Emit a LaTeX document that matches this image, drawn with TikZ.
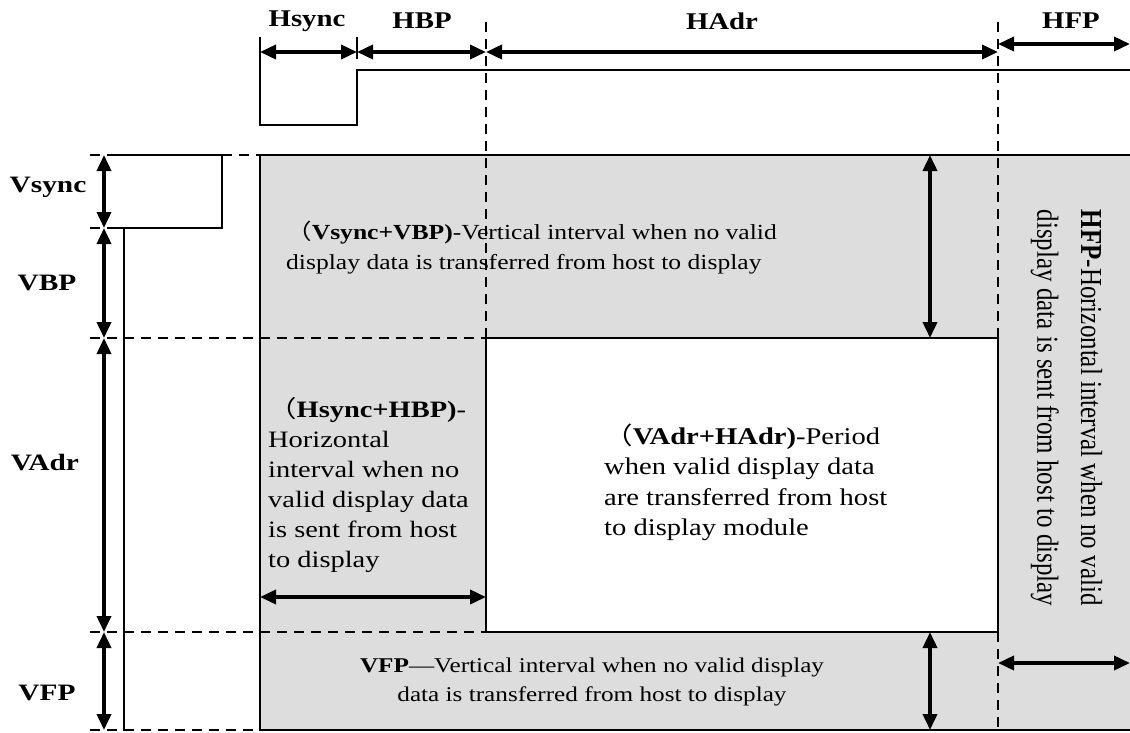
\documentclass[tikz,border=0pt]{standalone}
\usepackage{fontspec}
\setmainfont{Liberation Serif}
\newfontfamily\cjk{Noto Sans CJK SC}
\usetikzlibrary{arrows.meta}

% horizontal stretch of a text box
\newcommand\hs[2]{\scalebox{#1}[1]{#2}}
\newcommand\fwo{{\cjk\mdseries （}}

\definecolor{panelgray}{RGB}{221,221,221}

\tikzset{
  wire/.style={line width=1.5pt, line cap=rect},
  guide/.style={line width=1.5pt, dash pattern=on 10pt off 7pt},
  dim/.style={line width=3.6pt,
    {Triangle[length=16pt,width=14pt]}-{Triangle[length=16pt,width=14pt]}},
  toplbl/.style={inner sep=0pt, font=\fontsize{24}{28}\selectfont\bfseries},
  sidelbl/.style={inner sep=0pt, font=\fontsize{23.5}{28}\selectfont\bfseries},
  note/.style={inner sep=0pt}
}

\begin{document}
\begin{tikzpicture}[x=1pt,y=-1pt]
\useasboundingbox (0,0) rectangle (1130,732);

% ---------- shaded frame and active area ----------
\fill[panelgray] (260,155) rectangle (1130,730);
\fill[white] (486,338) rectangle (998,632);

% ---------- key points ----------
% top dimension line
\coordinate (t1) at (260,52);
\coordinate (t2) at (357,52);
\coordinate (t3) at (486,52);
\coordinate (t4) at (998,52);
\coordinate (t5) at (998,44);
\coordinate (t6) at (1130,44);
% hsync waveform
\coordinate (w0) at (260,38);
\coordinate (w1) at (260,125);
\coordinate (w2) at (357,125);
\coordinate (w3) at (357,70);
\coordinate (w4) at (1130,70);
\coordinate (k0) at (357,38);
\coordinate (k1) at (357,58);
% vsync waveform
\coordinate (v0) at (110,155);
\coordinate (v1) at (222,155);
\coordinate (v2) at (222,228);
\coordinate (v3) at (112,228);
\coordinate (v4) at (124,228);
\coordinate (v5) at (124,730);
% vertical guides
\coordinate (gc0) at (486,22);
\coordinate (gc1) at (486,338);
\coordinate (gd0) at (998,22);
\coordinate (gd1) at (998,338);
\coordinate (gd2) at (998,632);
\coordinate (gd3) at (998,730);
% horizontal guides
\coordinate (h1a) at (90,155);
\coordinate (h1b) at (260,155);
\coordinate (h1c) at (1130,155);
\coordinate (h2a) at (90,228);
\coordinate (h3a) at (90,338);
\coordinate (h3b) at (486,338);
\coordinate (h4a) at (90,632);
\coordinate (h4b) at (486,632);
\coordinate (h5a) at (90,730);
\coordinate (h5b) at (260,730);
\coordinate (h5c) at (1130,730);
% left dimension line
\coordinate (l1) at (104,155);
\coordinate (l2) at (104,228);
\coordinate (l3) at (104,338);
\coordinate (l4) at (104,632);
\coordinate (l5) at (104,730);
% inner dimension lines
\coordinate (a1) at (930,155);
\coordinate (a2) at (930,338);
\coordinate (a3) at (930,632);
\coordinate (a4) at (930,730);
\coordinate (b1) at (998,663);
\coordinate (b2) at (1130,663);
\coordinate (c1) at (260,597);
\coordinate (c2) at (486,597);

% ---------- guides ----------
\draw[guide] (gc0) -- (gc1);
\draw[guide] (gd0) -- (gd1);
\draw[guide] (gd2) -- (gd3);
\draw[guide] (h1a) -- (v0);
\draw[guide] (v1) -- (h1b);
\draw[guide] (h2a) -- (v3);
\draw[guide] (h3a) -- (h3b);
\draw[guide] (h4a) -- (h4b);
\draw[guide] (h5a) -- (h5b);

% ---------- solid outlines ----------
\draw[wire] (h1b) -- (h1c);
\draw[wire] (h1b) -- (h5b);
\draw[wire] (h5b) -- (h5c);
\draw[wire] (gc1) rectangle (gd2);

% ---------- sync waveforms ----------
\draw[wire] (w0) -- (w1) -- (w2) -- (w3) -- (w4);
\draw[wire] (k0) -- (k1);
\draw[wire] (v0) -- (v1) -- (v2) -- (v3);
\draw[wire] (v4) -- (v5);

% ---------- dimension arrows ----------
\draw[dim] (t1) -- (t2);
\draw[dim] (t2) -- (t3);
\draw[dim] (t3) -- (t4);
\draw[dim] (t5) -- (t6);
\draw[dim] (l1) -- (l2);
\draw[dim] (l2) -- (l3);
\draw[dim] (l3) -- (l4);
\draw[dim] (l4) -- (l5);
\draw[dim] (a1) -- (a2);
\draw[dim] (a3) -- (a4);
\draw[dim] (b1) -- (b2);
\draw[dim] (c1) -- (c2);

% ---------- labels ----------
\node[toplbl] (lhsync) at (307,21) {\hs{1.2}{Hsync}};
\node[toplbl] (lhbp)   at (422,21) {\hs{1.2}{HBP}};
\node[toplbl] (lhadr)  at (722,21) {\hs{1.2}{HAdr}};
\node[toplbl] (lhfp)   at (1071,21) {\hs{1.2}{HFP}};

\node[sidelbl] (lvsync) at (48,187) {\hs{1.25}{Vsync}};
\node[sidelbl] (lvbp)   at (47,283) {\hs{1.25}{VBP}};
\node[sidelbl] (lvadr)  at (45,463) {\hs{1.25}{VAdr}};
\node[sidelbl] (lvfp)   at (47,693) {\hs{1.25}{VFP}};

% ---------- descriptions ----------
\node[note, anchor=west, font=\fontsize{21.5}{30}\selectfont] (tvbp) at (286,248)
  {\hs{1.19}{\begin{tabular}{@{}l@{}}
   \fwo\textbf{Vsync+VBP)}-Vertical interval when no valid\\
   display data is transferred from host to display
   \end{tabular}}};

\node[note, anchor=west, font=\fontsize{23.5}{30}\selectfont] (thbp) at (268,486)
  {\hs{1.21}{\begin{tabular}{@{}l@{}}
   \fwo\textbf{Hsync+HBP)}-\\
   Horizontal\\
   interval when no\\
   valid display data\\
   is sent from host\\
   to display
   \end{tabular}}};

\node[note, anchor=west, font=\fontsize{24}{30.5}\selectfont] (tact) at (604,484)
  {\hs{1.19}{\begin{tabular}{@{}l@{}}
   \fwo\textbf{VAdr+HAdr)}-Period\\
   when valid display data\\
   are transferred from host\\
   to display module
   \end{tabular}}};

\node[note, font=\fontsize{21}{29}\selectfont] (tvfp) at (592,681)
  {\hs{1.2}{\begin{tabular}{@{}c@{}}
   \textbf{VFP}---Vertical interval when no valid display\\
   data is transferred from host to display
   \end{tabular}}};

\node[note, font=\fontsize{25}{36}\selectfont] (thfp) at (1068,408)
  {\hs{1.22}{\rotatebox{-90}{\begin{tabular}{@{}l@{}}
   \textbf{HFP}-Horizontal interval when no valid\\
   display data is sent from host to display
   \end{tabular}}}};

\end{tikzpicture}
\end{document}
